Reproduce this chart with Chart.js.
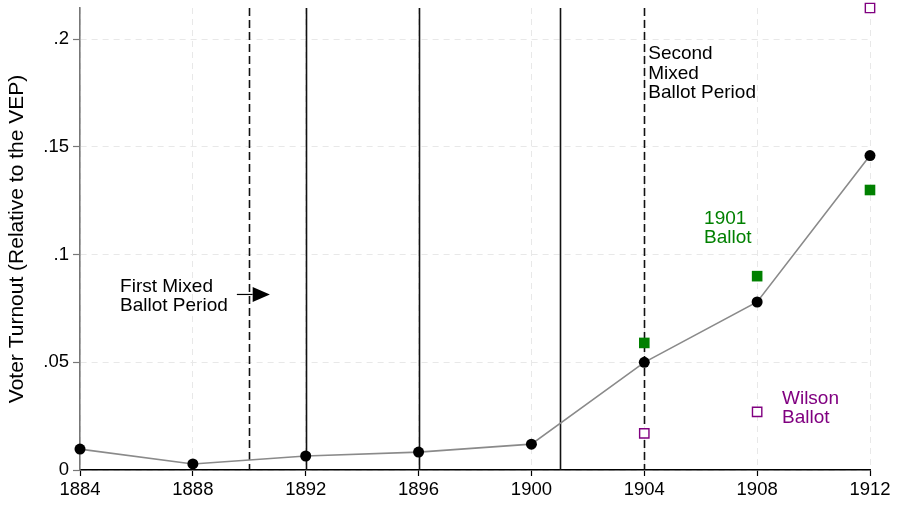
<!DOCTYPE html>
<html>
<head>
<meta charset="utf-8">
<script src="https://cdn.jsdelivr.net/npm/chart.js@4/dist/chart.umd.min.js"></script>
<style>
  html, body { margin: 0; padding: 0; background: #fff; }
  #wrap { width: 899px; height: 506px; position: relative; }
</style>
</head>
<body>
<div id="wrap"><canvas id="c"></canvas></div>
<script>
// Election years and turnout series
const years = [1884, 1888, 1892, 1896, 1900, 1904, 1908, 1912];
const turnout = [0.0097, 0.0028, 0.0065, 0.0083, 0.0120, 0.0500, 0.0780, 0.1460];
const ballot1901Years = [1904, 1908, 1912];
const ballot1901 = [0.0590, 0.0900, 0.1300];
const wilsonYears = [1904, 1908, 1912];
const wilson = [0.0170, 0.0270, 0.2145];

// Axis ticks
const xTicks = [1884, 1888, 1892, 1896, 1900, 1904, 1908, 1912];
const yTicks = [0, 0.05, 0.1, 0.15, 0.2];
const yTickLabels = ['0', '.05', '.1', '.15', '.2'];

// Period markers
const solidLines = [1892, 1896, 1901];
const dashedLines = [1890, 1904];

// Annotation text
const firstPeriodText = ['First Mixed', 'Ballot Period'];
const secondPeriodText = ['Second', 'Mixed', 'Ballot Period'];
const ballot1901Text = ['1901', 'Ballot'];
const wilsonText = ['Wilson', 'Ballot'];

const FONT = '"Liberation Sans", Arial, Helvetica, sans-serif';
const GREEN = '#008000';
const PURPLE = '#800080';

const toPts = (xs, ys) => xs.map((x, i) => ({ x: x, y: ys[i] }));

const periodLines = {
  id: 'periodLines',
  beforeDatasetsDraw(chart) {
    const { ctx, chartArea: a, scales: { x } } = chart;
    ctx.save();
    ctx.strokeStyle = '#111';
    ctx.lineWidth = 1.6;
    solidLines.forEach(v => {
      const px = Math.round(x.getPixelForValue(v)) + 0.5;
      ctx.beginPath(); ctx.moveTo(px, a.top); ctx.lineTo(px, a.bottom); ctx.stroke();
    });
    ctx.setLineDash([8, 4]);
    dashedLines.forEach(v => {
      const px = Math.round(x.getPixelForValue(v)) + 0.5;
      ctx.beginPath(); ctx.moveTo(px, a.top); ctx.lineTo(px, a.bottom); ctx.stroke();
    });
    ctx.restore();
  }
};

const notes = {
  id: 'notes',
  afterDatasetsDraw(chart) {
    const { ctx, scales: { x, y } } = chart;
    const block = (lines, xv, yv, color, size, lh) => {
      ctx.fillStyle = color;
      ctx.font = size + 'px ' + FONT;
      ctx.textAlign = 'left';
      ctx.textBaseline = 'alphabetic';
      const px = x.getPixelForValue(xv), py = y.getPixelForValue(yv);
      lines.forEach((t, i) => ctx.fillText(t, px, py + i * lh));
    };
    ctx.save();
    block(firstPeriodText, 1885.42, 0.0825, '#000', 19, 18.5);
    block(secondPeriodText, 1904.14, 0.1907, '#000', 19, 19.3);
    block(ballot1901Text, 1906.12, 0.1144, GREEN, 19, 19.5);
    block(wilsonText, 1908.88, 0.0306, PURPLE, 19, 19);

    // arrow pointing into the first mixed ballot period
    const ay = y.getPixelForValue(0.0815);
    const x0 = x.getPixelForValue(1889.56);
    const xb = x.getPixelForValue(1890.12);
    const xt = x.getPixelForValue(1890.73);
    ctx.strokeStyle = '#000';
    ctx.lineWidth = 1.2;
    ctx.beginPath(); ctx.moveTo(x0, ay); ctx.lineTo(xb, ay); ctx.stroke();
    ctx.fillStyle = '#000';
    ctx.beginPath();
    ctx.moveTo(xb, ay - 7.5); ctx.lineTo(xt, ay); ctx.lineTo(xb, ay + 7.5);
    ctx.closePath(); ctx.fill();
    ctx.restore();
  }
};

new Chart(document.getElementById('c'), {
  type: 'scatter',
  data: {
    datasets: [
      {
        label: 'Turnout',
        data: toPts(years, turnout),
        showLine: true,
        borderColor: '#8a8a8a',
        borderWidth: 1.6,
        pointRadius: 5.5,
        pointBackgroundColor: '#000',
        pointBorderColor: '#000',
        pointBorderWidth: 0,
        clip: false,
        order: 1
      },
      {
        label: '1901 Ballot',
        data: toPts(ballot1901Years, ballot1901),
        showLine: false,
        pointStyle: 'rect',
        pointRadius: 7.5,
        pointBackgroundColor: GREEN,
        pointBorderColor: GREEN,
        pointBorderWidth: 0,
        clip: false,
        order: 0
      },
      {
        label: 'Wilson Ballot',
        data: toPts(wilsonYears, wilson),
        showLine: false,
        pointStyle: 'rect',
        pointRadius: 6.6,
        pointBackgroundColor: '#fff',
        pointBorderColor: PURPLE,
        pointBorderWidth: 1.4,
        clip: false,
        order: 0
      }
    ]
  },
  options: {
    responsive: true,
    maintainAspectRatio: false,
    animation: false,
    devicePixelRatio: 1,
    layout: { padding: { top: 7, right: 29, left: 0, bottom: 0 } },
    plugins: { legend: { display: false }, tooltip: { enabled: false } },
    scales: {
      x: {
        type: 'linear',
        min: xTicks[0],
        max: xTicks[xTicks.length - 1],
        afterBuildTicks: s => { s.ticks = xTicks.map(v => ({ value: v })); },
        afterFit: s => { s.height = 36; s.paddingLeft = 0; s.paddingRight = 0; },
        ticks: {
          color: '#000',
          font: { family: FONT, size: 18.5 },
          padding: 3,
          maxRotation: 0,
          callback: v => String(v)
        },
        grid: {
          color: '#e8e8e8',
          lineWidth: 1,
          tickColor: '#000',
          tickLength: 6,
          tickWidth: 1.2
        },
        border: { color: '#000', width: 1.4, dash: [6, 5] }
      },
      y: {
        type: 'linear',
        min: 0,
        max: Math.max(...wilson),
        afterBuildTicks: s => { s.ticks = yTicks.map(v => ({ value: v })); },
        afterFit: s => { s.width = 80; s.paddingTop = 0; s.paddingBottom = 0; },
        ticks: {
          color: '#000',
          font: { family: FONT, size: 18.5 },
          padding: 4,
          callback: v => yTickLabels[yTicks.indexOf(v)] ?? ''
        },
        grid: {
          color: '#e8e8e8',
          lineWidth: 1,
          tickColor: '#777',
          tickLength: 7,
          tickWidth: 1.2
        },
        border: { color: '#777', width: 1.6, dash: [6, 5] },
        title: {
          display: true,
          text: 'Voter Turnout (Relative to the VEP)',
          color: '#000',
          font: { family: FONT, size: 21 },
          padding: { top: 5, bottom: 0 }
        }
      }
    }
  },
  plugins: [periodLines, notes]
});
</script>
</body>
</html>
